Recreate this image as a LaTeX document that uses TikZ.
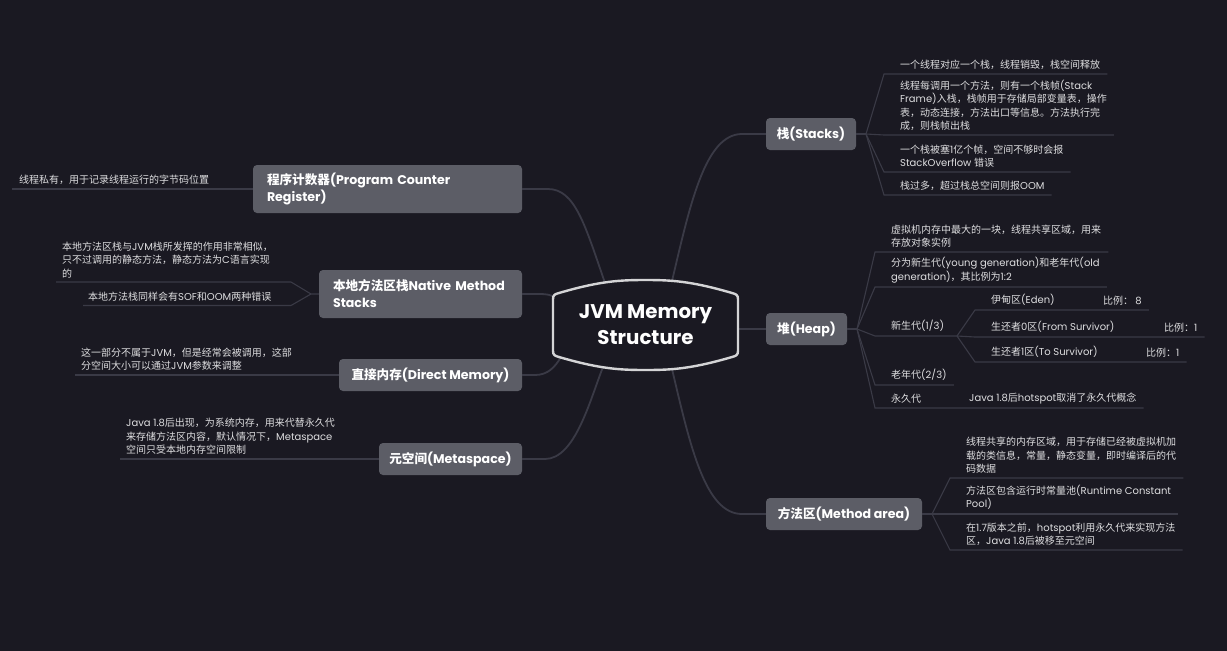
\documentclass[tikz,border=0pt]{standalone}
\usepackage{fontspec}
\setmainfont{Poppins}
\newfontfamily\cjk{Noto Sans CJK SC}
\usepackage{tikz}
\usetikzlibrary{calc,positioning}
\newXeTeXintercharclass\cjkclass
\count255="3000
\loop \XeTeXcharclass\count255=\cjkclass \ifnum\count255<"9FFF \advance\count255 by 1 \repeat
\count255="FF00
\loop \XeTeXcharclass\count255=\cjkclass \ifnum\count255<"FFEF \advance\count255 by 1 \repeat
\XeTeXinterchartokenstate=1
\XeTeXinterchartoks 0 \cjkclass = {\cjk}
\XeTeXinterchartoks 4095 \cjkclass = {\cjk}
\XeTeXinterchartoks \cjkclass 0 = {\rmfamily}
\XeTeXinterchartoks 4095 0 = {\rmfamily}
\definecolor{bg}{HTML}{1A1922}
\definecolor{boxc}{HTML}{5C5D66}
\definecolor{linec}{HTML}{3A3A46}
\definecolor{hubc}{HTML}{D4D4D6}
\definecolor{leafc}{HTML}{DEDEE0}
\tikzset{
    topic/.style ={rectangle, fill=boxc, rounded corners=4pt, text=white, inner sep=0pt,
                   minimum height=32pt, font=\fontsize{12.6}{17}\selectfont\bfseries},
    twoline/.style ={align=left, inner xsep=14pt, minimum height=48pt},
    leaf/.style = {anchor=south west, inner xsep=0pt, inner ysep=4pt, text=leafc,
                   align=left, font=\fontsize{10}{13.5}\selectfont},
    branch/.style = {draw=linec, line width=1.8pt},
    twig/.style = {draw=linec, line width=1.1pt},
    hub/.style = {draw=hubc, line width=2.4pt, fill=bg}
}
\begin{document}
\begin{tikzpicture}[x=1pt,y=-1pt]
	\fill[bg] (0,0) rectangle (1227,651);
	% topics
	\node[topic,twoline,text width=241pt] (1) at (387.5,189) {程序计数器(Program Counter\\Register)};
	\node[topic,twoline,text width=175pt] (2) at (420.5,294) {本地方法区栈Native~Method\\Stacks};
	\node[topic,minimum width=183pt] (3) at (430.5,375) {直接内存(Direct Memory)};
	\node[topic,minimum width=143pt] (4) at (450.5,459) {元空间(Metaspace)};
	\node[topic,minimum width=90pt] (5) at (811,134) {栈(Stacks)};
	\node[topic,minimum width=81pt] (6) at (806.5,329) {堆(Heap)};
	\node[topic,minimum width=156pt] (7) at (844,514) {方法区(Method area)};
	% hub border points
	\coordinate (0-1) at (605,283);
	\coordinate (0-2) at (554,297);
	\coordinate (0-3) at (561,357);
	\coordinate (0-4) at (603,367);
	\coordinate (0-5) at (672,281);
	\coordinate (0-6) at (738,329);
	\coordinate (0-7) at (672,369);
	\draw[branch] (0-1) .. controls (585,225) and (575,189) .. (548,189) -- (1.east);
	\draw[branch] (0-2) .. controls (551,295) and (547,294) .. (540,294) -- (2.east);
	\draw[branch] (0-3) .. controls (555,367) and (548,375) .. (535,375) -- (3.east);
	\draw[branch] (0-4) .. controls (590,400) and (575,459) .. (545,459) -- (4.east);
	\draw[branch] (0-5) .. controls (690,205) and (705,134) .. (742,134) -- (5.west);
	\draw[branch] (0-6) -- (6.west);
	\draw[branch] (0-7) .. controls (690,445) and (705,514) .. (742,514) -- (7.west);
	\draw[hub] (553,299) -- (553,351) .. controls (553,355) and (555,356) .. (559,357)
		.. controls (600,369) and (620,370) .. (645.5,370) .. controls (671,370) and (691,369) .. (732,357)
		.. controls (736,356) and (738,355) .. (738,351) -- (738,299)
		.. controls (738,295) and (736,294) .. (732,293) .. controls (691,281) and (671,280) .. (645.5,280)
		.. controls (620,280) and (600,281) .. (559,293) .. controls (555,294) and (553,295) .. (553,299) -- cycle;
	\node[align=center, text=white, font=\fontsize{19.8}{26}\selectfont\bfseries] (0) at (645.5,325) {JVM Memory\\Structure};
	% left leaves
	\node[leaf] (1a) at (19,189) {线程私有，用于记录线程运行的字节码位置};
	\draw[twig] (1.west) -- ([xshift=-7]1a.south west);
	\coordinate (2f) at (311,294);
	\node[leaf] (2a) at (62,282) {本地方法区栈与JVM栈所发挥的作用非常相似，\\只不过调用的静态方法，静态方法为C语言实现\\的};
	\node[leaf] (2b) at (88,305.5) {本地方法栈同样会有SOF和OOM两种错误};
	\draw[twig] (2.west) -- (2f) -- ++(-20,-12) -- ([xshift=-6]2a.south west);
	\draw[twig] (2f) -- ++(-20,11.5) -- ([xshift=-5]2b.south west);
	\node[leaf] (3a) at (81,375) {这一部分不属于JVM，但是经常会被调用，这部\\分空间大小可以通过JVM参数来调整};
	\draw[twig] (3.west) -- ([xshift=-6]3a.south west);
	\node[leaf] (4a) at (126,459) {Java 1.8后出现，为系统内存，用来代替永久代\\来存储方法区内容，默认情况下，Metaspace\\空间只受本地内存空间限制};
	\draw[twig] (4.west) -- ([xshift=-6]4a.south west);
	% stacks
	\coordinate (5f) at (866,134);
	\node[leaf] (5a) at (900,74) {一个线程对应一个栈，线程销毁，栈空间释放};
	\node[leaf] (5b) at (900,135) {线程每调用一个方法，则有一个栈帧(Stack\\Frame)入栈，栈帧用于存储局部变量表，操作\\表，动态连接，方法出口等信息。方法执行完\\成，则栈帧出栈};
	\node[leaf] (5c) at (900,172) {一个栈被塞1亿个帧，空间不够时会报\\StackOverflow 错误};
	\node[leaf] (5d) at (900,195) {栈过多，超过栈总空间则报OOM};
	\draw[twig] (5.east) -- (5f);
	\foreach \n in {5a,5b,5c,5d}
		\draw[twig] (5f) -- ([xshift=-16]\n.south west) -- ([xshift=7]\n.south east);
	% heap
	\coordinate (6f) at (857,329);
	\node[leaf] (6a) at (891,252) {虚拟机内存中最大的一块，线程共享区域，用来\\存放对象实例};
	\node[leaf] (6b) at (891,287) {分为新生代(young generation)和老年代(old\\generation)，其比例为1:2};
	\node[leaf] (6c) at (891,336) {新生代(1/3)};
	\node[leaf] (6d) at (891,385) {老年代(2/3)};
	\node[leaf] (6e) at (891,408) {永久代};
	\node[leaf] (6e1) at (969,408) {Java 1.8后hotspot取消了永久代概念};
	\draw[twig] (6.east) -- (6f);
	\foreach \n in {6a,6b,6d}
		\draw[twig] (6f) -- ([xshift=-16]\n.south west) -- ([xshift=7]\n.south east);
	\draw[twig] (6f) -- ([xshift=-16]6e.south west) -- ([xshift=7]6e1.south east);
	\coordinate (6cf) at (957,336);
	\draw[twig] (6f) -- ([xshift=-16]6c.south west) -- (6cf);
	\node[leaf] (6c1) at (991,310) {伊甸区(Eden)};
	\node[leaf] (6c1r) at (1103,310) {比例： 8};
	\node[leaf] (6c2) at (991,337) {生还者0区(From Survivor)};
	\node[leaf] (6c2r) at (1164,337) {比例：1};
	\node[leaf] (6c3) at (991,362) {生还者1区(To Survivor)};
	\node[leaf] (6c3r) at (1146,362) {比例：1};
	\foreach \n in {6c1,6c2,6c3}
		\draw[twig] (6cf) -- ([xshift=-16]\n.south west) -- ([xshift=7]\n r.south east);
	% method area
	\coordinate (7f) at (932,514);
	\node[leaf] (7a) at (966,478) {线程共享的内存区域，用于存储已经被虚拟机加\\载的类信息，常量，静态变量，即时编译后的代\\码数据};
	\node[leaf] (7b) at (966,514) {方法区包含运行时常量池(Runtime Constant\\Pool)};
	\node[leaf] (7c) at (966,550) {在1.7版本之前，hotspot利用永久代来实现方法\\区，Java 1.8后被移至元空间};
	\draw[twig] (7.east) -- (7f);
	\foreach \n in {7a,7b,7c}
		\draw[twig] (7f) -- ([xshift=-16]\n.south west) -- ([xshift=7]\n.south east);
\end{tikzpicture}
\end{document}
